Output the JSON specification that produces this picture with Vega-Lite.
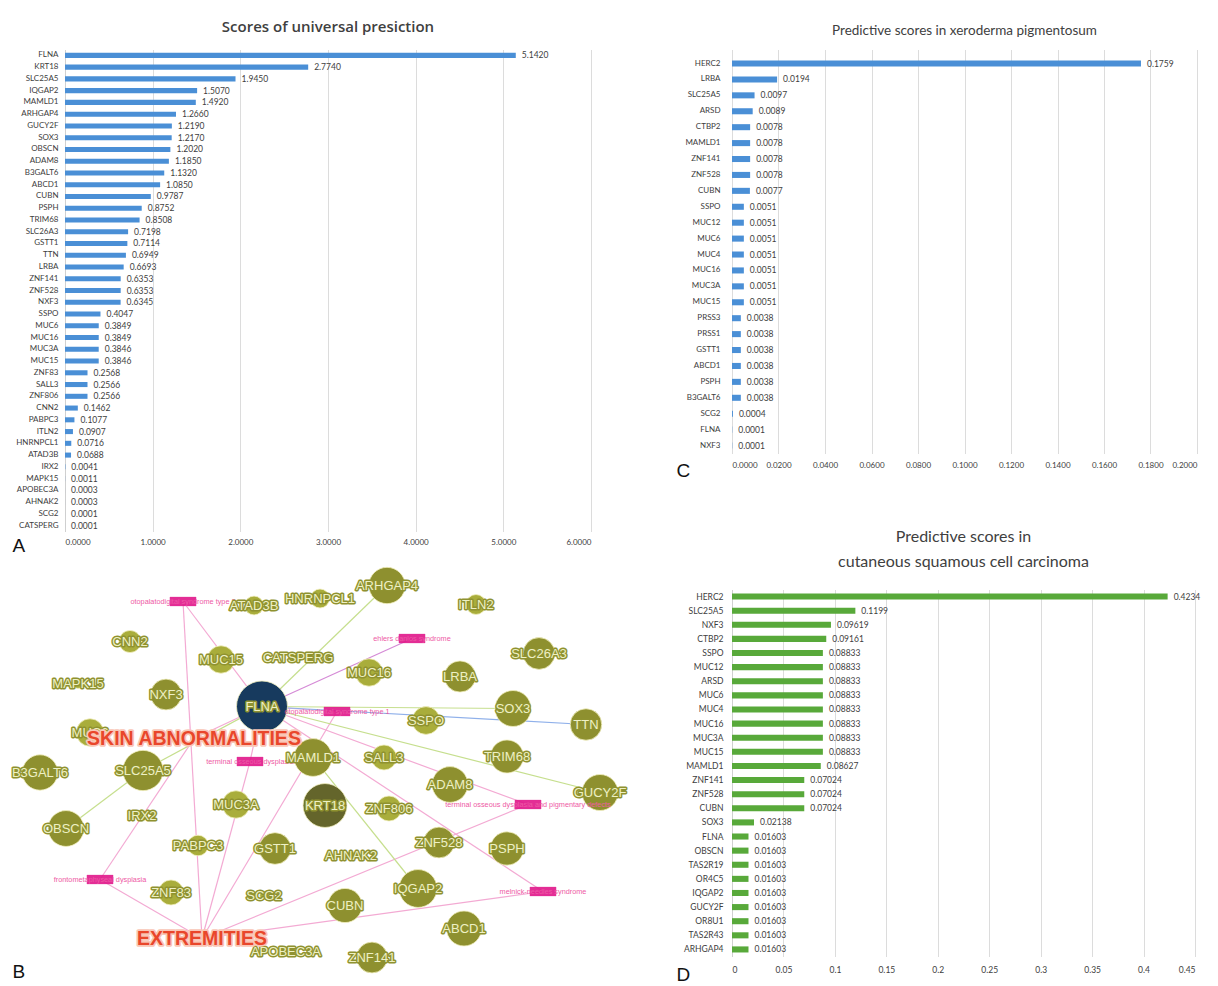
{
 "$schema": "https://vega.github.io/schema/vega-lite/v6.json",
 "background": "white",
 "padding": {"left": 10, "top": 19.5, "right": 0, "bottom": 0},
 "config": {"view": {"stroke": null}, "font": "Lato", "title": {"anchor": "middle"}},
 "datasets": {
  "A": [
   {"gene":"FLNA","score":5.142},{"gene":"KRT18","score":2.774},{"gene":"SLC25A5","score":1.945},{"gene":"IQGAP2","score":1.507},{"gene":"MAMLD1","score":1.492},{"gene":"ARHGAP4","score":1.266},{"gene":"GUCY2F","score":1.219},{"gene":"SOX3","score":1.217},{"gene":"OBSCN","score":1.202},{"gene":"ADAM8","score":1.185},{"gene":"B3GALT6","score":1.132},{"gene":"ABCD1","score":1.085},{"gene":"CUBN","score":0.9787},{"gene":"PSPH","score":0.8752},{"gene":"TRIM68","score":0.8508},{"gene":"SLC26A3","score":0.7198},{"gene":"GSTT1","score":0.7114},{"gene":"TTN","score":0.6949},{"gene":"LRBA","score":0.6693},{"gene":"ZNF141","score":0.6353},{"gene":"ZNF528","score":0.6353},{"gene":"NXF3","score":0.6345},{"gene":"SSPO","score":0.4047},{"gene":"MUC6","score":0.3849},{"gene":"MUC16","score":0.3849},{"gene":"MUC3A","score":0.3846},{"gene":"MUC15","score":0.3846},{"gene":"ZNF83","score":0.2568},{"gene":"SALL3","score":0.2566},{"gene":"ZNF806","score":0.2566},{"gene":"CNN2","score":0.1462},{"gene":"PABPC3","score":0.1077},{"gene":"ITLN2","score":0.0907},{"gene":"HNRNPCL1","score":0.0716},{"gene":"ATAD3B","score":0.0688},{"gene":"IRX2","score":0.0041},{"gene":"MAPK15","score":0.0011},{"gene":"APOBEC3A","score":0.0003},{"gene":"AHNAK2","score":0.0003},{"gene":"SCG2","score":0.0001},{"gene":"CATSPERG","score":0.0001}
  ],
  "C": [
   {"gene":"HERC2","score":0.1759},{"gene":"LRBA","score":0.0194},{"gene":"SLC25A5","score":0.0097},{"gene":"ARSD","score":0.0089},{"gene":"CTBP2","score":0.0078},{"gene":"MAMLD1","score":0.0078},{"gene":"ZNF141","score":0.0078},{"gene":"ZNF528","score":0.0078},{"gene":"CUBN","score":0.0077},{"gene":"SSPO","score":0.0051},{"gene":"MUC12","score":0.0051},{"gene":"MUC6","score":0.0051},{"gene":"MUC4","score":0.0051},{"gene":"MUC16","score":0.0051},{"gene":"MUC3A","score":0.0051},{"gene":"MUC15","score":0.0051},{"gene":"PRSS3","score":0.0038},{"gene":"PRSS1","score":0.0038},{"gene":"GSTT1","score":0.0038},{"gene":"ABCD1","score":0.0038},{"gene":"PSPH","score":0.0038},{"gene":"B3GALT6","score":0.0038},{"gene":"SCG2","score":0.0004},{"gene":"FLNA","score":0.0001},{"gene":"NXF3","score":0.0001}
  ],
  "D": [
   {"gene":"HERC2","score":0.4234},{"gene":"SLC25A5","score":0.1199},{"gene":"NXF3","score":0.09619},{"gene":"CTBP2","score":0.09161},{"gene":"SSPO","score":0.08833},{"gene":"MUC12","score":0.08833},{"gene":"ARSD","score":0.08833},{"gene":"MUC6","score":0.08833},{"gene":"MUC4","score":0.08833},{"gene":"MUC16","score":0.08833},{"gene":"MUC3A","score":0.08833},{"gene":"MUC15","score":0.08833},{"gene":"MAMLD1","score":0.08627},{"gene":"ZNF141","score":0.07024},{"gene":"ZNF528","score":0.07024},{"gene":"CUBN","score":0.07024},{"gene":"SOX3","score":0.02138},{"gene":"FLNA","score":0.01603},{"gene":"OBSCN","score":0.01603},{"gene":"TAS2R19","score":0.01603},{"gene":"OR4C5","score":0.01603},{"gene":"IQGAP2","score":0.01603},{"gene":"GUCY2F","score":0.01603},{"gene":"OR8U1","score":0.01603},{"gene":"TAS2R43","score":0.01603},{"gene":"ARHGAP4","score":0.01603}
  ],
  "nodes": [
   {"id":"FLNA","kind":"gene","lx":262,"ly":706},
   {"id":"KRT18","kind":"gene","lx":325,"ly":805},
   {"id":"SLC25A5","kind":"gene","lx":143,"ly":770},
   {"id":"IQGAP2","kind":"gene","lx":418,"ly":888},
   {"id":"MAMLD1","kind":"gene","lx":313,"ly":757},
   {"id":"ARHGAP4","kind":"gene","lx":387,"ly":585},
   {"id":"GUCY2F","kind":"gene","lx":600,"ly":792},
   {"id":"SOX3","kind":"gene","lx":513,"ly":708},
   {"id":"OBSCN","kind":"gene","lx":66,"ly":828},
   {"id":"ADAM8","kind":"gene","lx":450,"ly":784},
   {"id":"B3GALT6","kind":"gene","lx":40,"ly":772},
   {"id":"ABCD1","kind":"gene","lx":464,"ly":928},
   {"id":"CUBN","kind":"gene","lx":345,"ly":905},
   {"id":"PSPH","kind":"gene","lx":507,"ly":848},
   {"id":"TRIM68","kind":"gene","lx":507,"ly":756},
   {"id":"SLC26A3","kind":"gene","lx":539,"ly":653},
   {"id":"GSTT1","kind":"gene","lx":275,"ly":848},
   {"id":"TTN","kind":"gene","lx":586,"ly":724},
   {"id":"LRBA","kind":"gene","lx":460,"ly":676},
   {"id":"ZNF141","kind":"gene","lx":372,"ly":957},
   {"id":"ZNF528","kind":"gene","lx":439,"ly":842},
   {"id":"NXF3","kind":"gene","lx":166,"ly":694},
   {"id":"SSPO","kind":"gene","lx":426,"ly":720},
   {"id":"MUC6","kind":"gene","lx":90,"ly":732},
   {"id":"MUC16","kind":"gene","lx":369,"ly":672},
   {"id":"MUC3A","kind":"gene","lx":236,"ly":804},
   {"id":"MUC15","kind":"gene","lx":221,"ly":659},
   {"id":"ZNF83","kind":"gene","lx":171,"ly":892},
   {"id":"SALL3","kind":"gene","lx":384,"ly":757},
   {"id":"ZNF806","kind":"gene","lx":389,"ly":808},
   {"id":"CNN2","kind":"gene","lx":130,"ly":641},
   {"id":"PABPC3","kind":"gene","lx":198,"ly":845},
   {"id":"ITLN2","kind":"gene","lx":476,"ly":604},
   {"id":"HNRNPCL1","kind":"gene","lx":320,"ly":598},
   {"id":"ATAD3B","kind":"gene","lx":254,"ly":605},
   {"id":"IRX2","kind":"gene","lx":142,"ly":815},
   {"id":"MAPK15","kind":"gene","lx":78,"ly":683},
   {"id":"APOBEC3A","kind":"gene","lx":286,"ly":951},
   {"id":"AHNAK2","kind":"gene","lx":351,"ly":855},
   {"id":"SCG2","kind":"gene","lx":264,"ly":895},
   {"id":"CATSPERG","kind":"gene","lx":298,"ly":657},
   {"id":"otopalatodigital syndrome type 2","kind":"disease","lx":183,"ly":601},
   {"id":"ehlers danlos syndrome","kind":"disease","lx":412,"ly":638},
   {"id":"otopalatodigital syndrome type 1","kind":"disease","lx":337,"ly":711},
   {"id":"terminal osseous dysplasia","kind":"disease","lx":250,"ly":761},
   {"id":"terminal osseous dysplasia and pigmentary defects","kind":"disease","lx":528,"ly":804},
   {"id":"frontometaphyseal dysplasia","kind":"disease","lx":100,"ly":879},
   {"id":"melnick-needles syndrome","kind":"disease","lx":543,"ly":891},
   {"id":"SKIN ABNORMALITIES","kind":"pheno","lx":194,"ly":738},
   {"id":"EXTREMITIES","kind":"pheno","lx":202,"ly":938}
  ],
  "edges": [
   {"s":"FLNA","t":"otopalatodigital syndrome type 2","kind":"pheno"},
   {"s":"otopalatodigital syndrome type 2","t":"EXTREMITIES","kind":"pheno"},
   {"s":"FLNA","t":"ehlers danlos syndrome","kind":"purple"},
   {"s":"FLNA","t":"otopalatodigital syndrome type 1","kind":"pheno"},
   {"s":"FLNA","t":"terminal osseous dysplasia","kind":"pheno"},
   {"s":"FLNA","t":"terminal osseous dysplasia and pigmentary defects","kind":"pheno"},
   {"s":"FLNA","t":"melnick-needles syndrome","kind":"pheno"},
   {"s":"FLNA","t":"SKIN ABNORMALITIES","kind":"pheno"},
   {"s":"SKIN ABNORMALITIES","t":"frontometaphyseal dysplasia","kind":"pheno"},
   {"s":"EXTREMITIES","t":"frontometaphyseal dysplasia","kind":"pheno"},
   {"s":"EXTREMITIES","t":"terminal osseous dysplasia","kind":"pheno"},
   {"s":"EXTREMITIES","t":"otopalatodigital syndrome type 1","kind":"pheno"},
   {"s":"EXTREMITIES","t":"terminal osseous dysplasia and pigmentary defects","kind":"pheno"},
   {"s":"EXTREMITIES","t":"melnick-needles syndrome","kind":"pheno"},
   {"s":"FLNA","t":"ARHGAP4","kind":"gene"},
   {"s":"SLC25A5","t":"OBSCN","kind":"gene"},
   {"s":"SLC25A5","t":"FLNA","kind":"gene"},
   {"s":"FLNA","t":"SOX3","kind":"gene"},
   {"s":"FLNA","t":"GUCY2F","kind":"gene"},
   {"s":"MAMLD1","t":"IQGAP2","kind":"gene"},
   {"s":"FLNA","t":"TTN","kind":"blue"}
  ]
 },
 "spacing": 22,
 "hconcat": [
  {
   "spacing": 10,
   "vconcat": [
    {
     "data": {"name": "A"},
     "width": 526,
     "height": 482,
     "title": {"text": "Scores of universal presiction", "fontSize": 15, "fontWeight": 600, "font": "Open Sans", "color": "#404040", "offset": 14.5},
     "encoding": {
      "y": {"field": "gene", "type": "nominal", "sort": null,
            "scale": {"paddingInner": 0.57, "paddingOuter": 0.285},
            "axis": {"title": null, "ticks": false, "domain": true, "domainColor": "#d0d0d0", "labelPadding": 7, "labelFontSize": 8, "labelColor": "#404040", "labelFont": "Lato", "minExtent": 55, "maxExtent": 55}},
      "x": {"field": "score", "type": "quantitative",
            "scale": {"domain": [0, 6], "nice": false},
            "axis": {"values": [0, 1, 2, 3, 4, 5, 6], "format": ".4f", "grid": true, "gridColor": "#dcdcdc", "ticks": false, "domain": false, "labelFontSize": 8, "labelColor": "#404040", "labelPadding": 7, "labelFont": "Lato",
                     "title": "A", "titleAnchor": "start", "titleAlign": "left", "titleX": -53, "titleY": 20, "titleBaseline": "alphabetic", "titleFontSize": 19, "titleFont": "Liberation Sans", "titleFontWeight": "normal", "titleColor": "#111111"}}
     },
     "layer": [
      {"mark": {"type": "bar", "color": "#4a8fd6"}},
      {"mark": {"type": "text", "align": "left", "dx": 6, "fontSize": 8.5, "color": "#404040", "font": "Lato"},
       "encoding": {"text": {"field": "score", "format": ".4f"}}}
     ]
    },
    {
     "width": 585,
     "height": 420,
     "resolve": {"scale": {"color": "independent"}},
     "layer": [
      {
       "data": {"name": "edges"},
       "transform": [
        {"lookup": "s", "from": {"data": {"name": "nodes"}, "key": "id", "fields": ["lx", "ly"]}, "as": ["sx", "sy"]},
        {"lookup": "t", "from": {"data": {"name": "nodes"}, "key": "id", "fields": ["lx", "ly"]}, "as": ["tx", "ty"]}
       ],
       "mark": {"type": "rule", "strokeWidth": 1.2},
       "encoding": {
        "x": {"field": "sx", "type": "quantitative", "scale": {"domain": [65, 650], "nice": false, "zero": false},
              "axis": {"labels": false, "ticks": false, "domain": false, "grid": false, "title": "B", "titleAnchor": "start", "titleAlign": "left", "titleX": -53, "titleY": -8, "titleBaseline": "alphabetic", "titleFontSize": 19, "titleFont": "Liberation Sans", "titleFontWeight": "normal", "titleColor": "#111111"}},
        "y": {"field": "sy", "type": "quantitative", "scale": {"domain": [565, 985], "nice": false, "zero": false, "reverse": true}, "axis": null},
        "x2": {"field": "tx"},
        "y2": {"field": "ty"},
        "color": {"field": "kind", "type": "nominal", "scale": {"domain": ["pheno", "purple", "gene", "blue"], "range": ["#f3aad3", "#d58ad6", "#c6df8e", "#8fb0ea"]}, "legend": null}
       }
      },
      {
       "data": {"name": "nodes"},
       "transform": [
        {"filter": "datum.kind === 'gene'"},
        {"lookup": "id", "from": {"data": {"name": "A"}, "key": "gene", "fields": ["score"]}}
       ],
       "mark": {"type": "point", "filled": true, "opacity": 1, "stroke": "#f2f0c0", "strokeWidth": 0.8},
       "encoding": {
        "x": {"field": "lx", "type": "quantitative"},
        "y": {"field": "ly", "type": "quantitative"},
        "size": {"field": "score", "type": "quantitative", "scale": {"type": "sqrt", "domain": [0, 5.142], "range": [60, 2600]}, "legend": null},
        "color": {"field": "score", "type": "quantitative", "scale": {"type": "threshold", "domain": [0.5, 2.5, 5], "range": ["#a9ad3b", "#8e902f", "#64652b", "#173a5e"]}, "legend": null}
       }
      },
      {
       "data": {"name": "nodes"},
       "transform": [{"filter": "datum.kind === 'disease'"}],
       "mark": {"type": "point", "filled": true, "shape": "M-1,-0.35L1,-0.35L1,0.35L-1,0.35Z", "size": 700, "color": "#e0168a", "opacity": 0.9},
       "encoding": {
        "x": {"field": "lx", "type": "quantitative"},
        "y": {"field": "ly", "type": "quantitative"}
       }
      },
      {
       "data": {"name": "nodes"},
       "transform": [{"filter": "datum.kind === 'disease'"}],
       "mark": {"type": "text", "fontSize": 7.3, "font": "Liberation Sans", "color": "#ee5aa5", "baseline": "middle"},
       "encoding": {
        "x": {"field": "lx", "type": "quantitative"},
        "y": {"field": "ly", "type": "quantitative"},
        "text": {"field": "id"}
       }
      },
      {
       "data": {"name": "nodes"},
       "transform": [{"filter": "datum.kind === 'gene'"}],
       "mark": {"type": "text", "fontSize": 13, "font": "Liberation Sans", "baseline": "middle", "stroke": "#8f9230", "strokeWidth": 3, "strokeJoin": "round", "fill": "#8f9230"},
       "encoding": {
        "x": {"field": "lx", "type": "quantitative"},
        "y": {"field": "ly", "type": "quantitative"},
        "text": {"field": "id"}
       }
      },
      {
       "data": {"name": "nodes"},
       "transform": [{"filter": "datum.kind === 'gene'"}],
       "mark": {"type": "text", "fontSize": 13, "font": "Liberation Sans", "baseline": "middle", "fill": "#eef0c4"},
       "encoding": {
        "x": {"field": "lx", "type": "quantitative"},
        "y": {"field": "ly", "type": "quantitative"},
        "text": {"field": "id"}
       }
      },
      {
       "data": {"name": "nodes"},
       "transform": [{"filter": "datum.kind === 'pheno'"}],
       "mark": {"type": "text", "fontSize": 19.5, "fontWeight": "bold", "font": "Liberation Sans", "baseline": "middle", "stroke": "#f9c6b6", "strokeWidth": 3.5, "strokeJoin": "round", "fill": "#f9c6b6"},
       "encoding": {
        "x": {"field": "lx", "type": "quantitative"},
        "y": {"field": "ly", "type": "quantitative"},
        "text": {"field": "id"}
       }
      },
      {
       "data": {"name": "nodes"},
       "transform": [{"filter": "datum.kind === 'pheno'"}],
       "mark": {"type": "text", "fontSize": 19.5, "fontWeight": "bold", "font": "Liberation Sans", "baseline": "middle", "fill": "#e9462b"},
       "encoding": {
        "x": {"field": "lx", "type": "quantitative"},
        "y": {"field": "ly", "type": "quantitative"},
        "text": {"field": "id"}
       }
      }
     ]
    }
   ]
  },
  {
   "spacing": 48,
   "vconcat": [
    {
     "data": {"name": "C"},
     "width": 465,
     "height": 404,
     "title": {"text": "Predictive scores in xeroderma pigmentosum", "fontSize": 13.5, "fontWeight": "normal", "font": "Lato", "color": "#404040", "offset": 12.25},
     "encoding": {
      "y": {"field": "gene", "type": "nominal", "sort": null,
            "scale": {"paddingInner": 0.62, "paddingOuter": 0.5, "align": 0.69},
            "axis": {"title": null, "ticks": false, "domain": false, "labelPadding": 12, "labelFontSize": 8, "labelColor": "#404040", "labelFont": "Lato", "minExtent": 60, "maxExtent": 60}},
      "x": {"field": "score", "type": "quantitative",
            "scale": {"domain": [0, 0.2], "nice": false},
            "axis": {"values": [0, 0.02, 0.04, 0.06, 0.08, 0.1, 0.12, 0.14, 0.16, 0.18, 0.2], "format": ".4f", "grid": true, "gridColor": "#dcdcdc", "ticks": false, "domain": false, "labelFontSize": 8, "labelColor": "#404040", "labelPadding": 8, "labelFont": "Lato",
                     "title": "C", "titleAnchor": "start", "titleAlign": "left", "titleX": -56, "titleY": 23, "titleBaseline": "alphabetic", "titleFontSize": 19, "titleFont": "Liberation Sans", "titleFontWeight": "normal", "titleColor": "#111111"}}
     },
     "layer": [
      {"mark": {"type": "bar", "color": "#4a8fd6"}},
      {"mark": {"type": "text", "align": "left", "dx": 6, "fontSize": 8.5, "color": "#404040", "font": "Lato"},
       "encoding": {"text": {"field": "score", "format": ".4f"}}}
     ]
    },
    {
     "data": {"name": "D"},
     "width": 463,
     "height": 367,
     "title": {"text": ["Predictive scores in", "cutaneous squamous cell carcinoma"], "fontSize": 16, "lineHeight": 25, "fontWeight": "normal", "font": "Lato", "color": "#404040", "offset": 20},
     "encoding": {
      "y": {"field": "gene", "type": "nominal", "sort": null,
            "scale": {"paddingInner": 0.57, "paddingOuter": 0.285},
            "axis": {"title": null, "ticks": false, "domain": true, "domainColor": "#d0d0d0", "labelPadding": 9, "labelFontSize": 8.5, "labelColor": "#404040", "labelFont": "Lato", "minExtent": 60, "maxExtent": 60}},
      "x": {"field": "score", "type": "quantitative",
            "scale": {"domain": [0, 0.45], "nice": false},
            "axis": {"values": [0, 0.05, 0.1, 0.15, 0.2, 0.25, 0.3, 0.35, 0.4, 0.45], "format": "~g", "grid": true, "gridColor": "#dcdcdc", "ticks": false, "domain": false, "labelFontSize": 8.5, "labelColor": "#404040", "labelPadding": 9, "labelFont": "Lato",
                     "title": "D", "titleAnchor": "start", "titleAlign": "left", "titleX": -56, "titleY": 24, "titleBaseline": "alphabetic", "titleFontSize": 19, "titleFont": "Liberation Sans", "titleFontWeight": "normal", "titleColor": "#111111"}}
     },
     "layer": [
      {"mark": {"type": "bar", "color": "#58a93a"}},
      {"mark": {"type": "text", "align": "left", "dx": 6, "fontSize": 8.5, "color": "#404040", "font": "Lato"},
       "encoding": {"text": {"field": "score", "format": ".4r"}}}
     ]
    }
   ]
  }
 ]
}
